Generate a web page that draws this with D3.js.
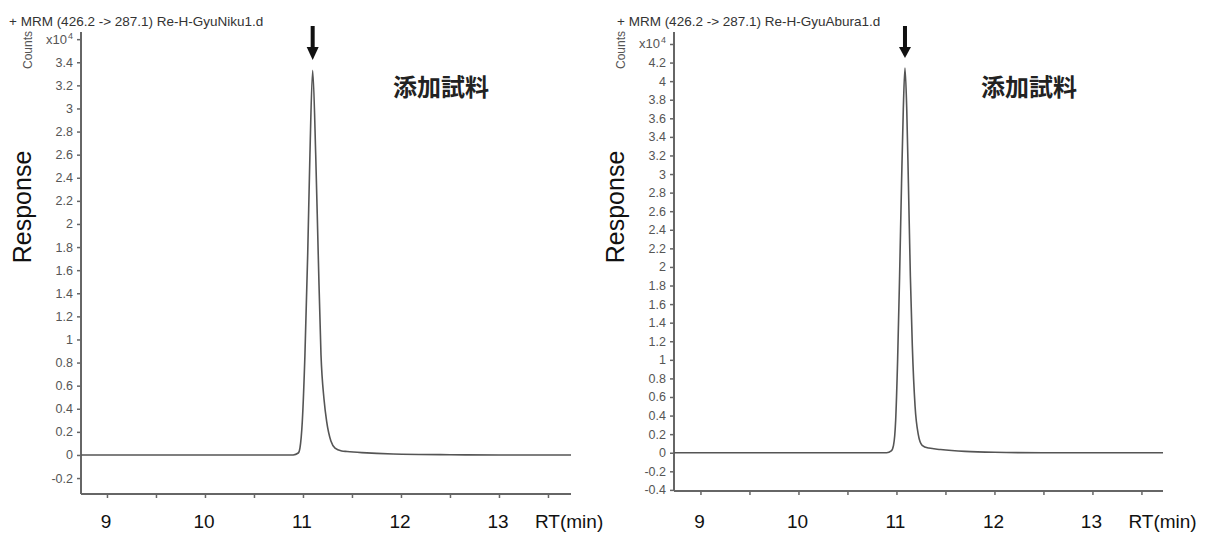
<!DOCTYPE html>
<html>
<head>
<meta charset="utf-8">
<script src="https://cdn.jsdelivr.net/npm/d3@7"></script>
<style>
  html, body { margin: 0; padding: 0; background: #fff; }
  svg { display: block; font-family: "Liberation Sans", Arial, sans-serif; }
</style>
</head>
<body>
<svg id="chart" width="1217" height="534"></svg>
<script>
// ---- Data -------------------------------------------------------------
// Retention time (min) and response (x10^4 counts) for each sample trace
const nikuRT   = [8.735, 10.90, 10.952, 10.969, 10.993, 11.020, 11.048, 11.071, 11.099, 11.130, 11.156, 11.184, 11.215, 11.242, 11.285, 11.327, 11.395, 11.45, 11.60, 11.92, 12.50, 13.00, 13.735];
const nikuResp = [0.000, 0.000, 0.017, 0.060, 0.288, 0.866, 1.730, 2.600, 3.330, 2.600, 1.730, 0.866, 0.480, 0.288, 0.120, 0.060, 0.035, 0.030, 0.020, 0.008, 0.002, 0.000, 0.000];

const aburaRT   = [8.73, 10.90, 10.947, 10.970, 10.992, 11.012, 11.032, 11.052, 11.070, 11.087, 11.105, 11.122, 11.142, 11.162, 11.190, 11.222, 11.262, 11.330, 11.45, 11.70, 12.00, 12.50, 13.72];
const aburaResp = [0.000, 0.000, 0.020, 0.080, 0.350, 1.000, 1.900, 2.900, 3.700, 4.140, 3.700, 2.900, 1.900, 1.150, 0.500, 0.200, 0.080, 0.050, 0.035, 0.015, 0.005, 0.000, 0.000];

// Axis ticks
const nikuYTicks  = [-0.2, 0, 0.2, 0.4, 0.6, 0.8, 1, 1.2, 1.4, 1.6, 1.8, 2, 2.2, 2.4, 2.6, 2.8, 3, 3.2, 3.4, 3.6];
const aburaYTicks = [-0.4, -0.2, 0, 0.2, 0.4, 0.6, 0.8, 1, 1.2, 1.4, 1.6, 1.8, 2, 2.2, 2.4, 2.6, 2.8, 3, 3.2, 3.4, 3.6, 3.8, 4, 4.2, 4.4];
const xMinorTicks = [9, 9.5, 10, 10.5, 11, 11.5, 12, 12.5, 13, 13.5];
const xLabels     = [9, 10, 11, 12, 13];

// Text
const nikuTitle  = "+ MRM (426.2 -> 287.1) Re-H-GyuNiku1.d";
const aburaTitle = "+ MRM (426.2 -> 287.1) Re-H-GyuAbura1.d";
const sampleLabel = "添加試料";
const peakRT = [11.099, 11.087];

// ---- Drawing ----------------------------------------------------------
const svg = d3.select("#chart");
const fmt = d => String(d);   // plain "-0.2", "1.4", "3"

function drawPanel(p) {
  const g = svg.append("g");
  const x = d3.scaleLinear().domain(p.xDomain).range([p.left, p.right]);
  const y = d3.scaleLinear().domain(p.yDomain).range([p.bottom, p.top]);

  // title
  g.append("text")
    .attr("x", p.titleX).attr("y", 26)
    .attr("font-size", 13.5).attr("fill", "#333")
    .text(p.title);

  // y axis
  const topTick = p.yTicks[p.yTicks.length - 1];
  const yAxis = d3.axisLeft(y)
    .tickValues(p.yTicks)
    .tickSize(4).tickPadding(4)
    .tickFormat(d => d === topTick ? "" : fmt(d));
  const ya = g.append("g").attr("transform", `translate(${p.left},0)`).call(yAxis);
  ya.select(".domain").attr("stroke", "#666").attr("stroke-width", 2)
    .attr("d", `M0,${p.top}V${p.bottom}`);
  ya.selectAll(".tick line").attr("stroke", "#666").attr("stroke-width", 1.5);
  ya.selectAll(".tick text").attr("fill", "#555").attr("font-size", 12.5)
    .attr("font-family", "'Liberation Sans', Arial, sans-serif");

  // exponent label on the top tick
  const ex = g.append("text")
    .attr("x", p.left - 8).attr("y", y(topTick) + 4.5)
    .attr("text-anchor", "end").attr("fill", "#555").attr("font-size", 13);
  ex.append("tspan").text("x10");
  ex.append("tspan").attr("font-size", 9).attr("dy", -5).attr("dx", 1).text("4");

  // "Counts"
  g.append("text")
    .attr("transform", `translate(${p.left - 49},${p.top + 18}) rotate(-90)`)
    .attr("text-anchor", "middle").attr("font-size", 12).attr("fill", "#555")
    .text("Counts");

  // "Response"
  g.append("text")
    .attr("transform", `translate(${p.left - 50},207) rotate(-90)`)
    .attr("text-anchor", "middle").attr("font-size", 25).attr("fill", "#111")
    .text("Response");

  // x axis
  const xAxis = d3.axisBottom(x).tickValues(xMinorTicks).tickSize(4).tickFormat("");
  const xa = g.append("g").attr("transform", `translate(0,${p.bottom})`).call(xAxis);
  xa.select(".domain").attr("stroke", "#666").attr("stroke-width", 2)
    .attr("d", `M${p.left},0H${p.right}`);
  xa.selectAll(".tick line").attr("stroke", "#666").attr("stroke-width", 1.5);

  // large RT labels
  g.selectAll(".rtlab").data(xLabels).join("text")
    .attr("class", "rtlab")
    .attr("x", d => x(d) - 1).attr("y", 528)
    .attr("text-anchor", "middle").attr("font-size", 19).attr("fill", "#111")
    .text(d => d);
  g.append("text")
    .attr("x", x(13) + 36).attr("y", 528)
    .attr("font-size", 19).attr("fill", "#111")
    .text("RT(min)");

  // trace
  const pts = p.rt.map((t, i) => [t, p.resp[i]]);
  g.append("path")
    .datum(pts)
    .attr("fill", "none").attr("stroke", "#555").attr("stroke-width", 1.6)
    .attr("stroke-linejoin", "round")
    .attr("d", d3.line().x(d => x(d[0])).y(d => y(d[1])).curve(d3.curveMonotoneX));

  // arrow marking the peak
  const ax = x(p.peak);
  g.append("rect").attr("x", ax - 2).attr("y", 26).attr("width", 4).attr("height", 22).attr("fill", "#111");
  g.append("path").attr("fill", "#111")
    .attr("d", `M${ax - 6},47L${ax + 6},47L${ax},${p.arrowTip}Z`);

  // sample label
  g.append("text")
    .attr("x", p.labelX).attr("y", 96)
    .attr("text-anchor", "middle")
    .attr("font-family", "'Noto Sans CJK JP', sans-serif")
    .attr("font-weight", "bold").attr("font-size", 24).attr("fill", "#222")
    .text(sampleLabel);
}

drawPanel({
  title: nikuTitle, titleX: 9,
  left: 81, right: 571, top: 32, bottom: 494,
  xDomain: [8.735, 13.735], yDomain: [-0.338, 3.662],
  yTicks: nikuYTicks, rt: nikuRT, resp: nikuResp,
  peak: peakRT[0], arrowTip: 60, labelX: 441
});

drawPanel({
  title: aburaTitle, titleX: 617,
  left: 674, right: 1163, top: 32, bottom: 491,
  xDomain: [8.73, 13.72], yDomain: [-0.412, 4.529],
  yTicks: aburaYTicks, rt: aburaRT, resp: aburaResp,
  peak: peakRT[1], arrowTip: 58, labelX: 1029
});
</script>
</body>
</html>
